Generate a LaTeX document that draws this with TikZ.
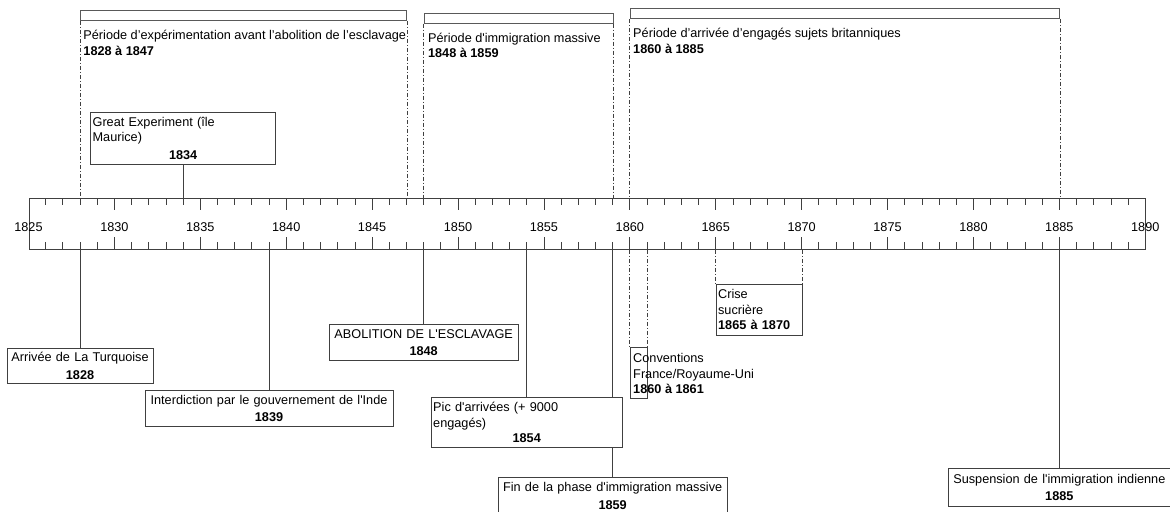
\documentclass[tikz,border=0pt]{standalone}
\usepackage{fontspec}
\setmainfont{Liberation Sans}
\usepackage{tikz}
\tikzstyle{period}=[rectangle,draw=black!65,inner sep=0pt,minimum height=10pt,anchor=north west]
\tikzstyle{event}=[rectangle,draw=black!75,fill=white,inner sep=2pt,align=center,anchor=north]
\tikzstyle{note}=[rectangle,draw=black!75,inner sep=2pt,align=left,anchor=north west]
\tikzstyle{caption}=[inner sep=0pt,align=left]
\tikzstyle{stem}=[draw=black!75]
\tikzstyle{span}=[draw=black!75,dash pattern=on 4pt off 2pt on 1pt off 2pt]
\usetikzlibrary{positioning}

\begin{document}
\begin{tikzpicture}[x=17.18pt,y=-1pt,line width=0.8pt,font=\fontsize{12.7}{15.5}\selectfont]
            \useasboundingbox (-1.659,0) rectangle (66.44,511);

            % TIME AXIS

            \node[draw=black!75,anchor=north west,inner sep=0pt,minimum width=1116.7pt,minimum height=51pt] (axis) at (0,198) {};
            \foreach \t in {1,...,64} {
                \draw[black!75] (\t,198) -- (\t,205);
                \draw[black!75] (\t,249) -- (\t,242);
            }
            \foreach \t in {5,10,...,60} {
                \draw[black!75] (\t,198) -- (\t,210);
                \draw[black!75] (\t,249) -- (\t,237);
            }
            \foreach \t in {0,5,...,65} {
                \pgfmathtruncatemacro{\yr}{1825+\t}
                \node (y\yr) at (\t,227) {\yr};
            }

            % PERIODS PART

            \node[period,minimum width=326.4pt] (pexp) at (3,10) {};
            \node[caption,below right=9pt and 3pt of pexp.south west] (cexp) {Période d’expérimentation avant l’abolition de l’esclavage\\\textbf{1828 à 1847}};
            \path[span] (pexp.south west) edge (pexp.south west |- axis.north);
            \path[span] (pexp.south east) edge (pexp.south east |- axis.north);

            \node[period,minimum width=189pt] (pimm) at (23,12.7) {};
            \node[caption,below right=9pt and 4pt of pimm.south west] (cimm) {Période d\textquotesingle immigration massive\\\textbf{1848 à 1859}};
            \path[span] (pimm.south west) edge (pimm.south west |- axis.north);
            \path[span] (pimm.south east) edge (pimm.south east |- axis.north);

            \node[period,minimum width=429.5pt] (pbrit) at (35,8) {};
            \node[caption,below right=9pt and 3pt of pbrit.south west] (cbrit) {Période d’arrivée d’engagés sujets britanniques\\\textbf{1860 à 1885}};
            \path[span] (pbrit.south west) edge (pbrit.south west |- axis.north);
            \path[span] (pbrit.south east) edge (pbrit.south east |- axis.north);

            % EVENTS ABOVE

            \node[event,align=left,text width=181pt,minimum height=52pt] (ge) at (9,112) {Great Experiment (île\\Maurice)\\[2pt]\makebox[181pt]{\textbf{1834}}};
            \path[stem] (ge) edge (ge |- axis.north);

            % EVENTS BELOW

            \node[event,text width=142pt,minimum height=35pt] (arr) at (3,348) {Arrivée de La Turquoise\\[2pt]\textbf{1828}};
            \path[stem] (arr) edge (arr |- axis.south);

            \node[event,text width=244pt,minimum height=36pt] (ban) at (14,390) {Interdiction par le gouvernement de l\textquotesingle Inde\\[2pt]\textbf{1839}};
            \path[stem] (ban) edge (ban |- axis.south);

            \node[event,text width=185pt,minimum height=36pt] (abo) at (23,324) {ABOLITION DE L\textquotesingle ESCLAVAGE\\[2pt]\textbf{1848}};
            \path[stem] (abo) edge (abo |- axis.south);

            \node[event,text width=225pt,minimum height=37pt] (fin) at (34,477) {Fin de la phase d\textquotesingle immigration massive\\[2pt]\textbf{1859}};
            \path[stem] (fin) edge (fin |- axis.south);

            \node[event,align=left,text width=187pt,minimum height=50pt] (pic) at (29,397) {Pic d\textquotesingle arrivées (+ 9000\\engagés)\\\makebox[187pt]{\textbf{1854}}};
            \path[stem] (pic) edge (pic |- axis.south);

            \node[event,text width=218pt,minimum height=38pt] (sus) at (60,468) {Suspension de l\textquotesingle immigration indienne\\[2pt]\textbf{1885}};
            \path[stem] (sus) edge (sus |- axis.south);

            % SPANS BELOW

            \node[note,minimum width=17.2pt,minimum height=51pt] (conv) at (35,347) {};
            \node[caption,below right=6pt and 3pt of conv.north west] (cconv) {Conventions\\France/Royaume-Uni\\\textbf{1860 à 1861}};
            \path[span] (conv.north west |- axis.south) edge (conv.north west);
            \path[span] (conv.north east |- axis.south) edge (conv.north east);

            \node[note,text width=81.9pt,minimum height=51pt] (crise) at (40,284) {Crise\\sucrière\\\textbf{1865 à 1870}};
            \path[span] (crise.north west |- axis.south) edge (crise.north west);
            \path[span] (crise.north east |- axis.south) edge (crise.north east);

\end{tikzpicture}
\end{document}
